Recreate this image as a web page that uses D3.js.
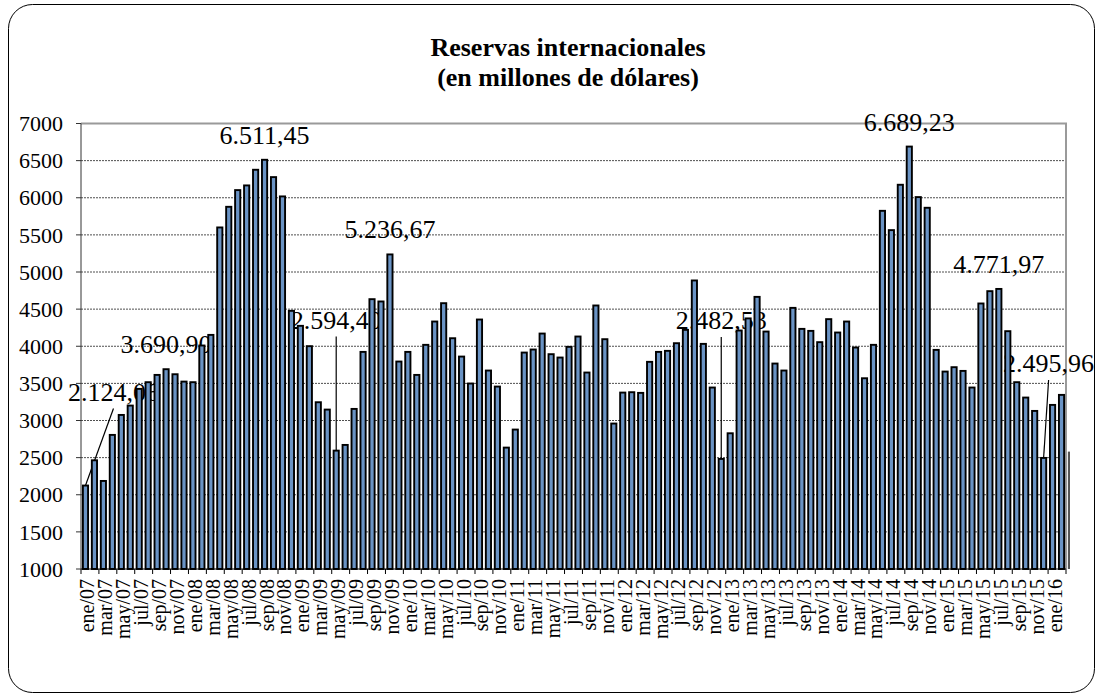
<!DOCTYPE html>
<html>
<head>
<meta charset="utf-8">
<script src="https://cdn.jsdelivr.net/npm/d3@7"></script>
<style>
  body { margin: 0; background: #fff; }
  svg { display: block; }
  svg text { font-family: "Liberation Serif", "Times New Roman", "DejaVu Serif", serif; }
</style>
</head>
<body>
<svg width="1098" height="697"></svg>
<script>
// month names used for the category axis
var monthNames = ["ene", "feb", "mar", "abr", "may", "jun", "jul", "ago", "sep", "oct", "nov", "dic"];
var years = ["07", "08", "09", "10", "11", "12", "13", "14", "15", "16"];

// reservas internacionales, millones de dólares (ene/07 .. mar/16)
var reservas = [
  2124.06, 2464, 2186, 2806, 3075, 3201, 3426, 3516, 3614, 3690.90, 3623, 3524,
  3516, 4010, 4153, 5600, 5878, 6103, 6166, 6377, 6511.45, 6278, 6018, 4477,
  4275, 4001, 3246, 3147, 2594.40, 2671, 3156, 3924, 4634, 4603, 5236.67, 3794,
  3924, 3614, 4019, 4333, 4580, 4108, 3861, 3498, 4360, 3673, 3457, 2635,
  2878, 3915, 3956, 4171, 3893, 3848, 3992, 4131, 3646, 4549, 4095, 2959,
  3376, 3381, 3372, 3790, 3924, 3938, 4041, 4221, 4886, 4032, 3444, 2482.53,
  2828, 4212, 4375, 4665, 4198, 3767, 3673, 4517, 4234, 4207, 4055, 4365,
  4185, 4333, 3983, 3569, 4019, 5824, 5564, 6175, 6689.23, 6009, 5865, 3951,
  3659, 3718, 3668, 3444, 4576, 4742, 4771.97, 4203, 3516, 3309, 3129, 2495.96,
  3210, 3345, 2581
];

var yTicks = [1000, 1500, 2000, 2500, 3000, 3500, 4000, 4500, 5000, 5500, 6000, 6500, 7000];

// bars carrying a data label
var labelled = [0, 9, 20, 28, 34, 71, 92, 102, 107];
// labels moved away from their bar, with a leader line
var labelMoves = {
  0:   { dx: 28, dy: -85 },
  28:  { dx: 0,  dy: -122 },
  71:  { dx: 0,  dy: -130 },
  107: { dx: 5,  dy: -86 }
};

var months = [];
years.forEach(function (y) {
  monthNames.forEach(function (m) { months.push(m + "/" + y); });
});
months = months.slice(0, reservas.length);

var data = months.map(function (m, i) { return { name: m, value: reservas[i], i: i }; });

var svg = d3.select("svg");
var plotLeft = 81, plotRight = 1066, plotTop = 123.5, plotBottom = 569;
var step = (plotRight - plotLeft) / 110;

var x = d3.scaleBand()
  .domain(months)
  .range([plotLeft, plotLeft + months.length * step])
  .paddingInner(0.42)
  .paddingOuter(0.21);

var y = d3.scaleLinear()
  .domain([1000, 7000])
  .range([plotBottom, plotTop]);

var fmt = d3.formatLocale({ decimal: ",", thousands: ".", grouping: [3], currency: ["", ""] }).format(",.2f");

// outer frame
svg.append("rect")
  .attr("x", 8.5).attr("y", 4.5)
  .attr("width", 1086).attr("height", 688)
  .attr("rx", 24).attr("ry", 24)
  .attr("fill", "none")
  .attr("stroke", "#000")
  .attr("stroke-width", 1);

// title
var title = svg.append("text")
  .attr("x", 568)
  .attr("text-anchor", "middle")
  .attr("font-weight", "bold")
  .attr("font-size", 26);
title.append("tspan").attr("x", 568).attr("y", 56).text("Reservas internacionales");
title.append("tspan").attr("x", 568).attr("y", 86).text("(en millones de dólares)");

// gridlines
svg.append("g")
  .selectAll("line")
  .data(yTicks.filter(function (t) { return t > 1000 && t < 7000; }))
  .enter().append("line")
  .attr("x1", plotLeft).attr("x2", plotRight)
  .attr("y1", function (d) { return y(d); })
  .attr("y2", function (d) { return y(d); })
  .attr("stroke", "#222")
  .attr("stroke-width", 0.8)
  .attr("stroke-dasharray", "2,1");

// plot border (top and right)
svg.append("path")
  .attr("d", "M" + plotLeft + "," + y(7000) + "H" + plotRight + "V" + plotBottom)
  .attr("fill", "none")
  .attr("stroke", "#9a9a9a")
  .attr("stroke-width", 2);

// data labels (drawn under the bars)
var labels = svg.append("g").attr("font-size", 26).attr("fill", "#000");
labelled.forEach(function (i) {
  var d = data[i];
  var cx = x(d.name) + x.bandwidth() / 2;
  var top = y(d.value);
  var mv = labelMoves[i];
  var lx = mv ? cx + mv.dx : cx;
  var ly = mv ? top + mv.dy : top - 16;
  if (mv) {
    labels.append("line")
      .attr("x1", lx).attr("y1", ly + 8)
      .attr("x2", cx).attr("y2", top)
      .attr("stroke", "#000")
      .attr("stroke-width", 1.2);
  }
  labels.append("text")
    .attr("x", lx).attr("y", ly)
    .attr("text-anchor", "middle")
    .text(fmt(d.value));
});

// bars
svg.append("clipPath").attr("id", "plotclip")
  .append("rect")
  .attr("x", plotLeft).attr("y", 0)
  .attr("width", 1070 - plotLeft).attr("height", plotBottom + 1);

svg.append("g")
  .attr("clip-path", "url(#plotclip)")
  .selectAll("rect")
  .data(data)
  .enter().append("rect")
  .attr("x", function (d) { return x(d.name); })
  .attr("y", function (d) { return y(d.value); })
  .attr("width", x.bandwidth())
  .attr("height", function (d) { return plotBottom - y(d.value); })
  .attr("fill", function (d) { return d.i > 109 ? "#555" : "#6a93c4"; })
  .attr("stroke", function (d) { return d.i > 109 ? "none" : "#000"; })
  .attr("stroke-width", 1.9);

// y axis
var yAxis = svg.append("g");
yAxis.append("line")
  .attr("x1", plotLeft).attr("x2", plotLeft)
  .attr("y1", plotTop).attr("y2", plotBottom)
  .attr("stroke", "#333");
yAxis.selectAll("line.tick")
  .data(yTicks)
  .enter().append("line")
  .attr("class", "tick")
  .attr("x1", plotLeft - 5).attr("x2", plotLeft)
  .attr("y1", function (d) { return y(d); })
  .attr("y2", function (d) { return y(d); })
  .attr("stroke", "#333");
yAxis.selectAll("text")
  .data(yTicks)
  .enter().append("text")
  .attr("x", 63)
  .attr("y", function (d) { return y(d); })
  .attr("dy", "0.35em")
  .attr("text-anchor", "end")
  .attr("font-size", 22)
  .text(function (d) { return d; });

// x axis
var xAxis = svg.append("g");
var half = (x.step() - x.bandwidth()) / 2;
var shown = data.filter(function (d) { return d.i % 2 === 0 && d.i < 110; });
xAxis.append("line")
  .attr("x1", plotLeft).attr("x2", plotRight)
  .attr("y1", plotBottom).attr("y2", plotBottom)
  .attr("stroke", "#000");
xAxis.selectAll("line.tick")
  .data(data.filter(function (d) { return d.i % 2 === 0; }))
  .enter().append("line")
  .attr("class", "tick")
  .attr("x1", function (d) { return x(d.name) - half; })
  .attr("x2", function (d) { return x(d.name) - half; })
  .attr("y1", plotBottom).attr("y2", plotBottom + 5)
  .attr("stroke", "#000");
xAxis.selectAll("text")
  .data(shown)
  .enter().append("text")
  .attr("transform", function (d) {
    return "translate(" + (x(d.name) + x.bandwidth() / 2 + 2) + "," + (plotBottom + 10) + ") rotate(-90)";
  })
  .attr("dy", "0.35em")
  .attr("text-anchor", "end")
  .attr("font-size", 20)
  .text(function (d) { return d.name; });
</script>
</body>
</html>
